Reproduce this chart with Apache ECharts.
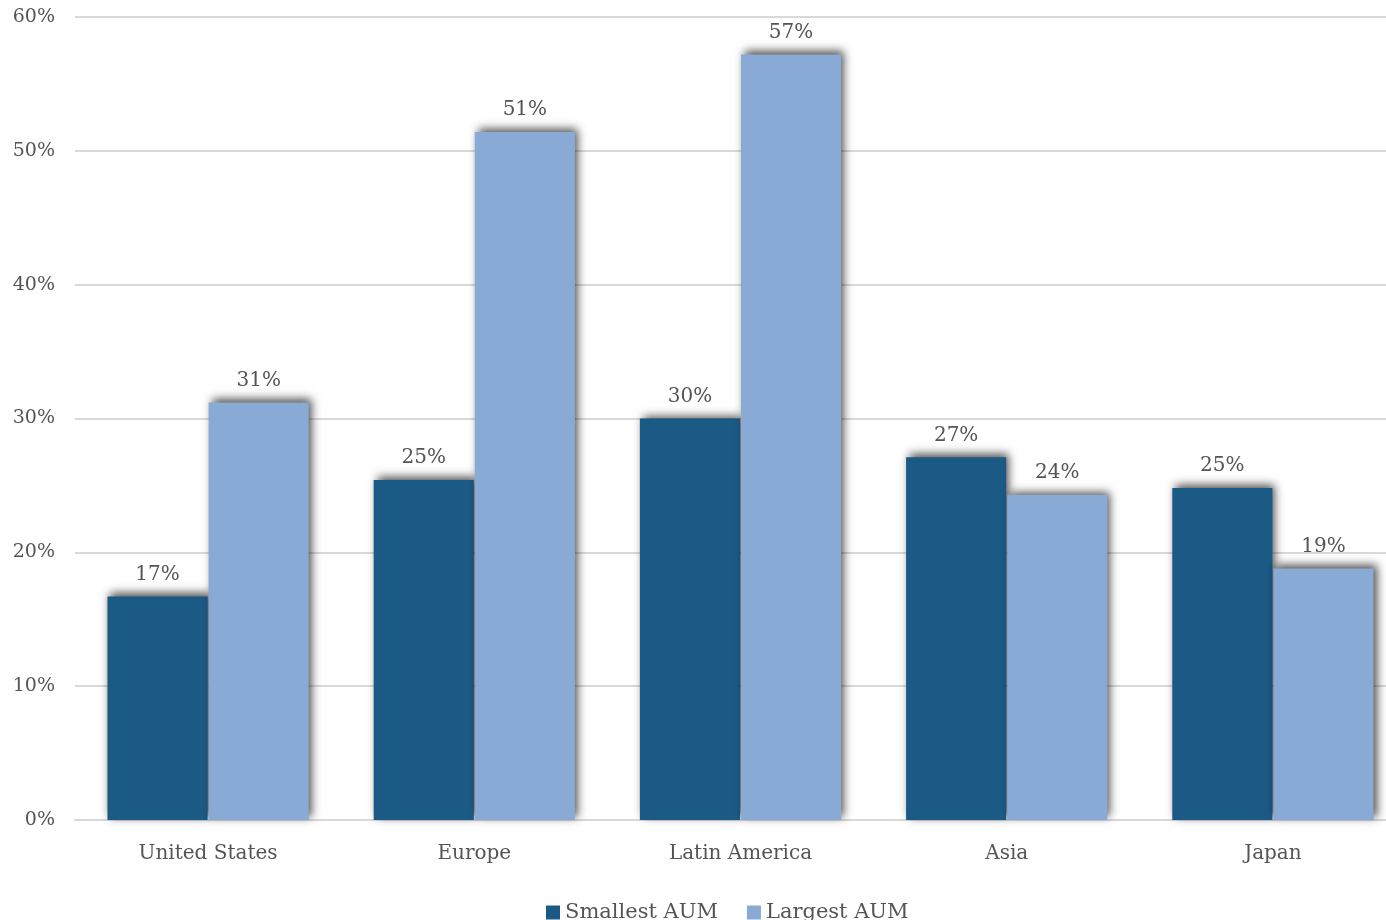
<!DOCTYPE html>
<html>
<head>
<meta charset="utf-8">
<script src="https://cdn.jsdelivr.net/npm/echarts@6/dist/echarts.min.js"></script>
<style>
  html, body { margin: 0; padding: 0; background: #fff; }
  #chart { width: 1386px; height: 920px; }
</style>
</head>
<body>
<div id="chart"></div>
<script>
// data
const categories = ['United States', 'Europe', 'Latin America', 'Asia', 'Japan']
const smallestAUM = [16.7, 25.4, 30.0, 27.1, 24.8]
const largestAUM = [31.2, 51.4, 57.2, 24.3, 18.8]
const yTicks = [0, 10, 20, 30, 40, 50, 60]

const font = 'DejaVu Serif'
const textColor = '#545454'

const chart = echarts.init(document.getElementById('chart'))

const barShadow = {
  shadowColor: 'rgba(0, 0, 0, 0.7)',
  shadowBlur: 9,
  shadowOffsetX: 3,
  shadowOffsetY: -3
}

const valueLabel = {
  show: true,
  position: 'top',
  distance: 12,
  fontFamily: font,
  fontSize: 20,
  color: textColor,
  formatter: p => Math.round(p.value) + '%'
}

const option = {
  backgroundColor: '#fff',
  animation: false,
  grid: {
    left: 75,
    right: -20,
    top: 17,
    bottom: 100,
    containLabel: false,
    outerBoundsMode: 'none'
  },
  legend: {
    bottom: -8,
    left: 541,
    itemWidth: 14,
    itemHeight: 14,
    itemGap: 29,
    icon: 'rect',
    textStyle: { fontFamily: font, fontSize: 21, color: textColor },
    data: ['Smallest AUM', 'Largest AUM']
  },
  xAxis: {
    type: 'category',
    data: categories,
    axisLine: { lineStyle: { color: '#d9d9d9', width: 2 } },
    axisTick: { show: false },
    axisLabel: {
      margin: 24,
      fontFamily: font,
      fontSize: 20,
      color: textColor
    }
  },
  yAxis: {
    type: 'value',
    min: yTicks[0],
    max: yTicks[yTicks.length - 1],
    interval: 10,
    axisLine: { show: false },
    axisTick: { show: false },
    splitLine: { lineStyle: { color: '#d9d9d9', width: 2 } },
    axisLabel: {
      margin: 20,
      fontFamily: font,
      fontSize: 19,
      color: textColor,
      formatter: v => v + '%'
    }
  },
  series: [
    {
      name: 'Smallest AUM',
      type: 'bar',
      data: smallestAUM,
      barGap: '1%',
      barCategoryGap: '24.4%',
      itemStyle: Object.assign({ color: '#1c5a86' }, barShadow),
      label: valueLabel
    },
    {
      name: 'Largest AUM',
      type: 'bar',
      data: largestAUM,
      itemStyle: Object.assign({ color: '#88aad4' }, barShadow),
      label: valueLabel
    }
  ]
}

chart.setOption(option)
</script>
</body>
</html>
